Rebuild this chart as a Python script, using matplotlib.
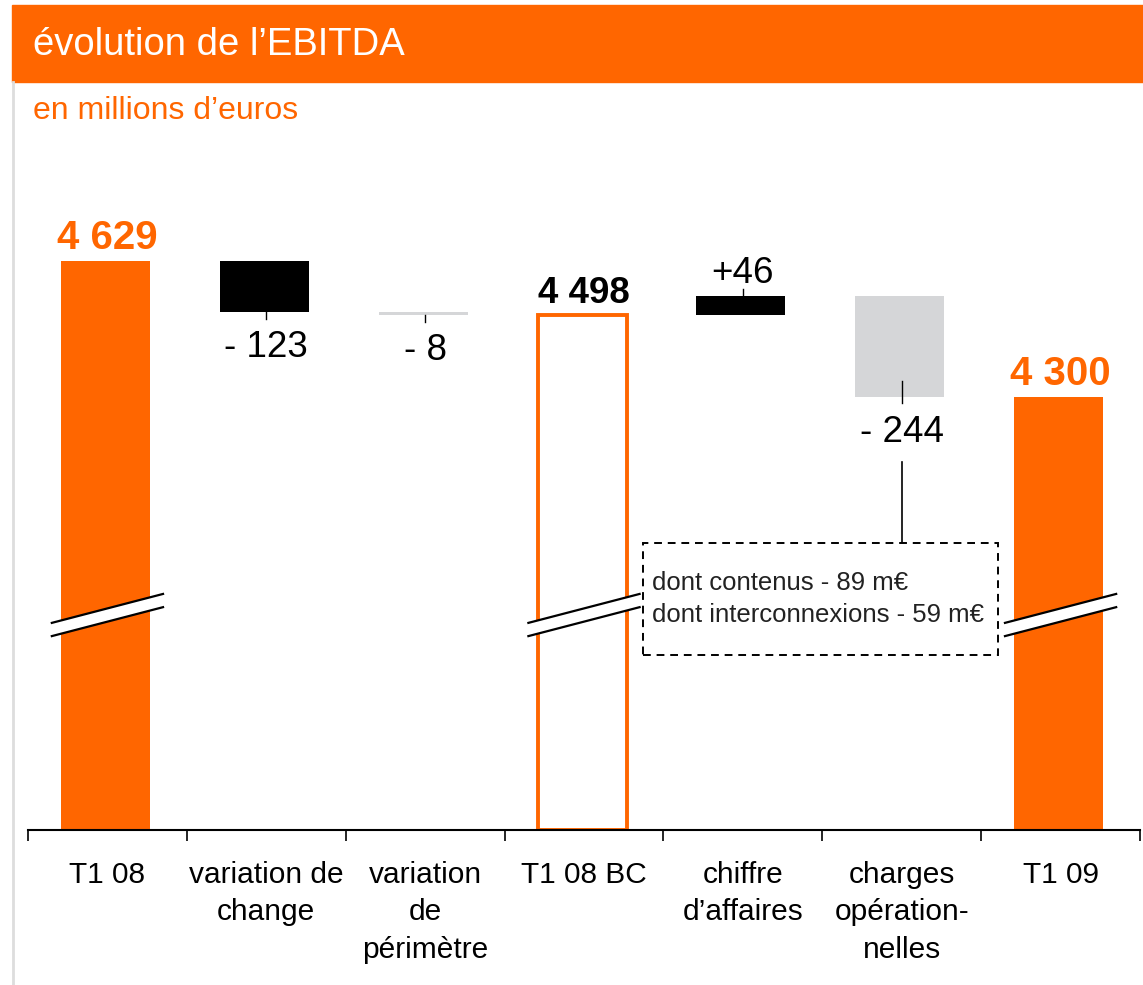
import numpy as np
import matplotlib.pyplot as plt
from matplotlib.patches import Rectangle, Polygon
from matplotlib.lines import Line2D

plt.rcParams['font.family'] = ['Liberation Sans', 'DejaVu Sans']

# data
categories = ["T1 08", "variation de\nchange", "variation\nde\npérimètre", "T1 08 BC",
              "chiffre\nd’affaires", "charges\nopération-\nnelles", "T1 09"]
kinds = ["total", "delta", "delta", "total", "delta", "delta", "total"]
values = [4629, -123, -8, 4498, 46, -244, 4300]
labels = ["4 629", "- 123", "- 8", "4 498", "+46", "- 244", "4 300"]
box_lines = ["dont contenus - 89 m€", "dont interconnexions - 59 m€"]

ORANGE = "#FF6600"
GREY = "#D5D6D8"
bar_colors = [ORANGE, "black", GREY, "white", "black", GREY, ORANGE]

base = 3253      # bottom of the broken axis
brk = 3773       # level of the break marks

W, H = 1143, 985
fig = plt.figure(figsize=(W / 100, H / 100), dpi=100)

# header band + left border
fig.patches.append(Rectangle((12 / W, 1 - 82 / H), 1 - 12 / W, 77 / H,
                             transform=fig.transFigure, color=ORANGE, zorder=0))
fig.lines.append(Line2D([13 / W, 13 / W], [0, 1 - 82 / H], transform=fig.transFigure,
                        color="#DDDDDD", lw=2))
fig.text(33 / W, 1 - 45 / H, "évolution de l’EBITDA", color="white", fontsize=27.5, va="center")
fig.text(33 / W, 1 - 111 / H, "en millions d’euros", color=ORANGE, fontsize=23, va="center")

ax = fig.add_axes([28 / W, 1 - 830 / H, 1112 / W, 690 / H])
ax.set_xlim(-0.5, 6.5)
ax.set_ylim(base, 4922)

x = np.arange(len(categories))
level = 0
bottoms, tops = [], []
for k, v in zip(kinds, values):
    if k == "total":
        lo, hi = base, v
        level = v
    else:
        lo, hi = sorted([level, level + v])
        level += v
    bottoms.append(lo)
    tops.append(hi)

for i in range(len(x)):
    if i == 3:
        ax.bar(x[i] - 0.012, tops[i] - bottoms[i], bottom=bottoms[i], width=0.56,
               color="white", edgecolor=ORANGE, linewidth=2.8, zorder=2)
    else:
        ax.bar(x[i] - 0.012, tops[i] - bottoms[i], bottom=bottoms[i], width=0.56,
               color=bar_colors[i], linewidth=0, zorder=2)

# labels
for i in range(len(x)):
    if kinds[i] == "total":
        col = ORANGE if i != 3 else "black"
        fs = 29 if i != 3 else 26.5
        ax.annotate(labels[i], (x[i], tops[i]), xytext=(0, 9), textcoords="offset points",
                    ha="center", va="baseline", fontsize=fs, fontweight="bold", color=col)
    elif values[i] > 0:
        ax.plot([x[i], x[i]], [tops[i], tops[i] + 17], color="black", lw=1, zorder=3)
        ax.annotate(labels[i], (x[i], tops[i]), xytext=(0, 9.5), textcoords="offset points",
                    ha="center", va="baseline", fontsize=26.5, color="black")
    else:
        if i == 5:
            ax.plot([x[i], x[i]], [bottoms[i] + 39, bottoms[i] - 15], color="black", lw=1, zorder=3)
        else:
            ax.plot([x[i], x[i]], [bottoms[i], bottoms[i] - 17], color="black", lw=1, zorder=3)
        ax.annotate(labels[i], (x[i], bottoms[i]), xytext=(0, -32.5), textcoords="offset points",
                    ha="center", va="baseline", fontsize=26.5, color="black")

# break marks on the total bars
for i in [0, 3, 6]:
    hw = 0.35
    xs = [x[i] - hw, x[i] + hw]
    top_line = [brk - 19, brk + 51]
    bot_line = [brk - 51, brk + 19]
    ax.add_patch(Polygon([(xs[0], bot_line[0]), (xs[1], bot_line[1]),
                          (xs[1], top_line[1]), (xs[0], top_line[0])],
                         closed=True, facecolor="white", edgecolor="none", zorder=4, clip_on=False))
    ax.plot(xs, top_line, color="black", lw=1.6, zorder=5, clip_on=False)
    ax.plot(xs, bot_line, color="black", lw=1.6, zorder=5, clip_on=False)

# callout box for charges
ax.plot([5, 5], [4143, 3947], color="black", lw=1.2, zorder=3)
ax.add_patch(Rectangle((3.37, 3676), 5.607 - 3.37, 3947 - 3676, facecolor="white",
                       edgecolor="black", lw=1.4, linestyle=(0, (4, 3)), zorder=3))
ax.text(3.43, 3851, box_lines[0], fontsize=18.5, va="center", ha="left", color="#222222", zorder=6)
ax.text(3.43, 3772, box_lines[1], fontsize=18.5, va="center", ha="left", color="#222222", zorder=6)

# axis
for s in ["left", "right", "top"]:
    ax.spines[s].set_visible(False)
ax.spines["bottom"].set_linewidth(1.5)
ax.spines["bottom"].set_zorder(6)
ax.set_yticks([])
ax.set_xticks(x)
ax.set_xticklabels(categories, fontsize=21.5, linespacing=1.45)
ax.set_xticks(np.arange(-0.5, 7, 1), minor=True)
ax.tick_params(axis="x", which="major", length=0, pad=22)
ax.tick_params(axis="x", which="minor", length=8, width=1.2, direction="out")
ax.patch.set_alpha(0)

fig.savefig("out.png", dpi=100)
